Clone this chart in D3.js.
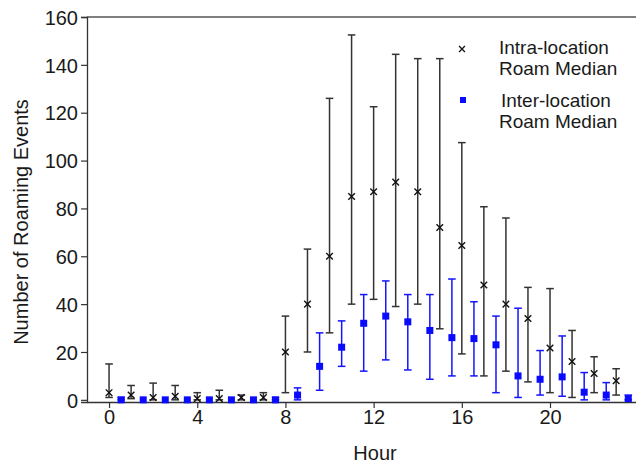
<!DOCTYPE html>
<html>
<head>
<meta charset="utf-8">
<script src="https://cdn.jsdelivr.net/npm/d3@7"></script>
<style>
  body { margin: 0; background: #fff; }
  text { font-family: "Liberation Sans", Arial, sans-serif; fill: #1a1a1a; }
</style>
</head>
<body>
<div id="graphHolder"></div>
<script>
var hours = d3.range(0, 24);
var xTicks = [0, 4, 8, 12, 16, 20];
var yTicks = [0, 20, 40, 60, 80, 100, 120, 140, 160];

// intra-location roam: median, lower, upper
var intraMedian = [3, 2, 1, 1.5, 0.5, 0.5, 1, 1, 20, 40, 60, 85, 87, 91, 87, 72, 64.5, 48, 40, 34, 21.7, 16, 11, 8];
var intraLow = [1, 0.5, 0, 0, 0, 0, 0, 0, 3, 20, 28, 40, 42, 39, 40, 29.7, 19.2, 10, 12, 7.5, 3, 1, 3, 2];
var intraHigh = [15, 6, 7, 6, 3, 4, 2, 3, 35, 63, 126, 152.5, 122.5, 144.4, 142.6, 142.6, 107.5, 80.7, 76, 47, 46.5, 29, 18, 13];

// inter-location roam: median, lower, upper
var interMedian = [0, 0, 0, 0, 0, 0, 0, 0, 2, 14, 22, 32, 35, 32.6, 29, 26, 25.6, 23, 10, 8.6, 9.6, 3.2, 2, 0.5];
var interLow = [0, 0, 0, 0, 0, 0, 0, 0, 0, 4, 14, 12, 16.7, 12.5, 8.6, 10, 10, 3, 1, 2, 1.5, 0, 0, 0];
var interHigh = [1, 0, 0, 0, 0, 0, 0, 1, 5, 28, 33, 44, 49.7, 44, 44, 50.5, 41, 35, 38.3, 20.6, 26.7, 11.4, 7.2, 2];

var legendLines = [["Intra-location", "Roam Median"], ["Inter-location", "Roam Median"]];

var graphWidth = 636, graphHeight = 464;
var blackCol = "#333333", blueCol = "#1414ff";

var svg = d3.select("#graphHolder").append("svg")
    .attr("width", graphWidth)
    .attr("height", graphHeight);

var x = d3.scaleLinear().domain([-1, 23.9]).range([87, 636]);
var y = d3.scaleLinear().domain([-0.9, 160]).range([402, 17]);
var interShift = 0.55;

// frame top line
svg.append("line")
    .attr("x1", x.range()[0]).attr("x2", x.range()[1])
    .attr("y1", y(160)).attr("y2", y(160))
    .attr("stroke", "#555").attr("stroke-width", 1.5);

// left axis
var yAxis = svg.append("g")
    .attr("transform", "translate(" + x.range()[0] + ",0)")
    .call(d3.axisLeft(y).tickValues(yTicks).tickSize(6).tickPadding(3));
yAxis.select(".domain").attr("stroke", "#333").attr("stroke-width", 1.3);
yAxis.selectAll(".tick line").attr("stroke", "#333").attr("stroke-width", 1.2);
yAxis.selectAll(".tick text").attr("font-size", 20).attr("dy", "0.36em")
    .style("font-family", "Liberation Sans, Arial, sans-serif").attr("fill", "#1a1a1a");

// bottom axis
var xAxis = svg.append("g")
    .attr("transform", "translate(0," + y.range()[0] + ")")
    .call(d3.axisBottom(x).tickValues(xTicks).tickSize(6).tickPadding(2).tickSizeOuter(0));
xAxis.select(".domain").attr("stroke", "#333").attr("stroke-width", 1.3);
xAxis.selectAll(".tick line").attr("stroke", "#333").attr("stroke-width", 1.2);
xAxis.selectAll(".tick text").attr("font-size", 20).attr("dy", "0.71em")
    .style("font-family", "Liberation Sans, Arial, sans-serif").attr("fill", "#1a1a1a");

// axis titles
svg.append("text")
    .attr("transform", "translate(28,222) rotate(-90)")
    .attr("text-anchor", "middle")
    .attr("font-size", 20)
    .text("Number of Roaming Events");

svg.append("text")
    .attr("x", 375).attr("y", 460)
    .attr("text-anchor", "middle")
    .attr("font-size", 20)
    .text("Hour");

function drawBars(med, lo, hi, shift, col) {
    var g = svg.append("g");
    var cap = 3.8;
    hours.forEach(function (h, i) {
        if (hi[i] - lo[i] < 0.3) return;
        var cx = x(h + shift);
        g.append("line").attr("x1", cx).attr("x2", cx)
            .attr("y1", y(lo[i])).attr("y2", y(hi[i]))
            .attr("stroke", col).attr("stroke-width", 1.5);
        [lo[i], hi[i]].forEach(function (v) {
            g.append("line").attr("x1", cx - cap).attr("x2", cx + cap)
                .attr("y1", y(v)).attr("y2", y(v))
                .attr("stroke", col).attr("stroke-width", 1.5);
        });
    });
    return g;
}

drawBars(intraMedian, intraLow, intraHigh, 0, blackCol);
drawBars(interMedian, interLow, interHigh, interShift, blueCol);

// intra markers (x)
var cross = d3.symbol().type(d3.symbolX).size(30);
svg.append("g").selectAll("path")
    .data(hours)
    .join("path")
    .attr("transform", function (h, i) {
        return "translate(" + x(h) + "," + y(intraMedian[i]) + ")";
    })
    .attr("d", cross)
    .attr("fill", "none")
    .attr("stroke", "#111")
    .attr("stroke-width", 1.4);

// inter markers (squares)
svg.append("g").selectAll("rect")
    .data(hours)
    .join("rect")
    .attr("x", function (h) { return x(h + interShift) - 3.5; })
    .attr("y", function (h, i) { return y(interMedian[i]) - 3.5; })
    .attr("width", 7).attr("height", 7)
    .attr("fill", "#0a0aff");

// legend
var legend = svg.append("g");
legend.append("path")
    .attr("transform", "translate(462,49)")
    .attr("d", d3.symbol().type(d3.symbolX).size(24))
    .attr("fill", "none").attr("stroke", "#111").attr("stroke-width", 1.3);
legend.append("rect")
    .attr("x", 460).attr("y", 97).attr("width", 6).attr("height", 6)
    .attr("fill", "#0a0aff");

var legendText = [[499, 54], [501, 107]];
legendLines.forEach(function (lines, k) {
    var t = legend.append("text")
        .attr("x", legendText[k][0]).attr("y", legendText[k][1])
        .attr("font-size", 19);
    lines.forEach(function (s, j) {
        t.append("tspan")
            .attr("x", legendText[k][0] - (j ? legendText[k][0] - 499 : 0))
            .attr("dy", j ? 21 : 0)
            .text(s);
    });
});
</script>
</body>
</html>
